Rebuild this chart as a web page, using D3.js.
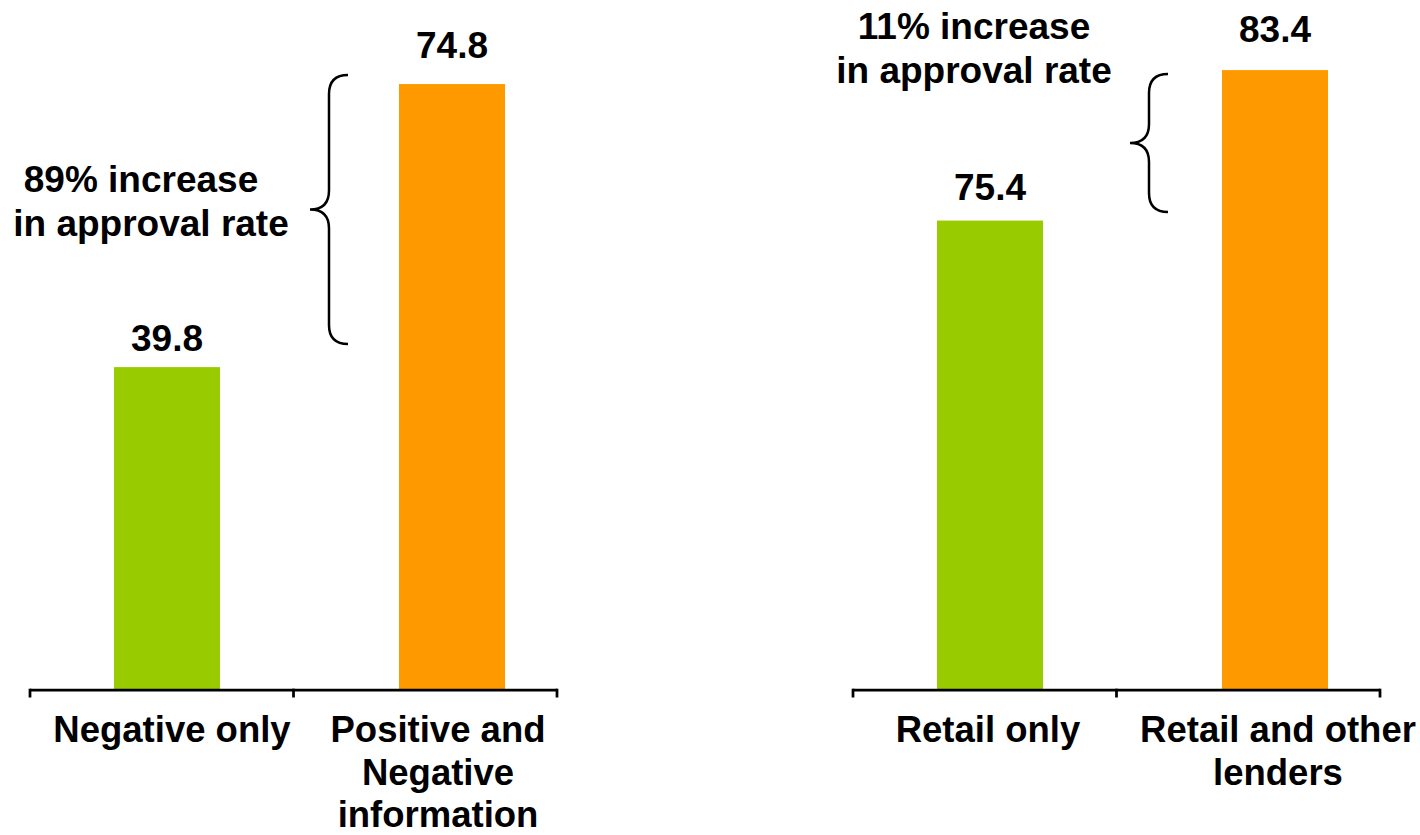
<!DOCTYPE html>
<html>
<head>
<meta charset="utf-8">
<script src="https://cdn.jsdelivr.net/npm/d3@7/dist/d3.min.js"></script>
<style>
  html, body { margin: 0; padding: 0; background: #fff; }
  svg { display: block; }
  text { font-family: "Liberation Sans", Arial, Helvetica, sans-serif; font-weight: bold; fill: #000; }
</style>
</head>
<body>
<svg id="chart" width="1420" height="835"></svg>
<script>
// Approval rates by type of credit information
const categoriesLeft = [["Negative only"], ["Positive and", "Negative", "information"]];
const valuesLeft = [39.8, 74.8];
const noteLeft = ["89% increase", "in approval rate"];

// Approval rates by source of credit information
const categoriesRight = [["Retail only"], ["Retail and other", "lenders"]];
const valuesRight = [75.4, 83.4];
const noteRight = ["11% increase", "in approval rate"];

const barColors = ["#99CC00", "#FF9900"];

const svg = d3.select("#chart");
const baseY = 689;     // bottom of the bars
const axisY = 690;     // category axis line
const fontSize = 37;
const catFontSize = 36.5;
const lineGap = 43.5;
const catLineGap = 42.5;
const catBaseline = 742;

const panels = [
  {
    cats: categoriesLeft, vals: valuesLeft, note: noteLeft,
    ox: 0, yDomain: [0, 80], yTop: 42,
    labelLift: [16, 26],
    catShift: [5, -14],
    axisStops: [30, 293.5, 557],
    brace: { tipX: 310, endX: 348, y0: 75, y1: 344 },
    noteX: [141, 151], noteY: 192
  },
  {
    cats: categoriesRight, vals: valuesRight, note: noteRight,
    ox: 823, yDomain: [50.5, 85], yTop: 40,
    labelLift: [21, 28],
    catShift: [-2, 3],
    axisStops: [30, 293.5, 557],
    brace: { tipX: 1130, endX: 1168, y0: 74, y1: 212 },
    noteX: [974, 974], noteY: 39
  }
];

panels.forEach((p, pi) => {
  const g = svg.append("g").attr("class", "panel-" + pi);
  const keys = p.cats.map(c => c.join(" "));

  const x = d3.scaleBand()
    .domain(keys)
    .range([24.5 + p.ox, 594.5 + p.ox])
    .paddingInner(0.628)
    .paddingOuter(0.314);

  const y = d3.scaleLinear()
    .domain(p.yDomain)
    .range([baseY, p.yTop]);

  // bars
  g.selectAll("rect.bar")
    .data(p.vals)
    .join("rect")
    .attr("class", "bar")
    .attr("x", (d, i) => x(keys[i]))
    .attr("width", x.bandwidth())
    .attr("y", d => y(d))
    .attr("height", d => baseY - y(d))
    .attr("fill", (d, i) => barColors[i]);

  // value labels
  g.selectAll("text.value")
    .data(p.vals)
    .join("text")
    .attr("class", "value")
    .attr("x", (d, i) => x(keys[i]) + x.bandwidth() / 2)
    .attr("y", (d, i) => y(d) - p.labelLift[i])
    .attr("text-anchor", "middle")
    .attr("font-size", fontSize)
    .text(d => d.toFixed(1));

  // category axis with boundary ticks
  const stops = p.axisStops.map(s => s + p.ox);
  g.append("line")
    .attr("x1", stops[0]).attr("x2", stops[stops.length - 1])
    .attr("y1", axisY).attr("y2", axisY)
    .attr("stroke", "#000").attr("stroke-width", 2.75);
  g.selectAll("line.tick")
    .data(stops)
    .join("line")
    .attr("class", "tick")
    .attr("x1", d => d).attr("x2", d => d)
    .attr("y1", axisY - 1.3).attr("y2", axisY + 7.5)
    .attr("stroke", "#000").attr("stroke-width", 2.75);

  // category labels
  p.cats.forEach((lines, i) => {
    const cx = x(keys[i]) + x.bandwidth() / 2 + p.catShift[i];
    const t = g.append("text")
      .attr("text-anchor", "middle")
      .attr("font-size", catFontSize)
      .attr("x", cx)
      .attr("y", catBaseline);
    lines.forEach((ln, j) => {
      t.append("tspan")
        .attr("x", cx)
        .attr("y", catBaseline + j * catLineGap)
        .text(ln);
    });
  });

  // curly brace spanning the increase
  const b = p.brace;
  const xv = (b.tipX + b.endX) / 2;
  const ym = (b.y0 + b.y1) / 2;
  const r = 19;
  const path = d3.path();
  path.moveTo(b.endX, b.y0);
  path.quadraticCurveTo(xv, b.y0, xv, b.y0 + r);
  path.lineTo(xv, ym - r);
  path.quadraticCurveTo(xv, ym, b.tipX, ym);
  path.quadraticCurveTo(xv, ym, xv, ym + r);
  path.lineTo(xv, b.y1 - r);
  path.quadraticCurveTo(xv, b.y1, b.endX, b.y1);
  g.append("path")
    .attr("d", path.toString())
    .attr("fill", "none")
    .attr("stroke", "#000")
    .attr("stroke-width", 2.5);

  // increase note
  p.note.forEach((ln, j) => {
    g.append("text")
      .attr("text-anchor", "middle")
      .attr("font-size", fontSize)
      .attr("x", p.noteX[j])
      .attr("y", p.noteY + j * lineGap)
      .text(ln);
  });
});
</script>
</body>
</html>
